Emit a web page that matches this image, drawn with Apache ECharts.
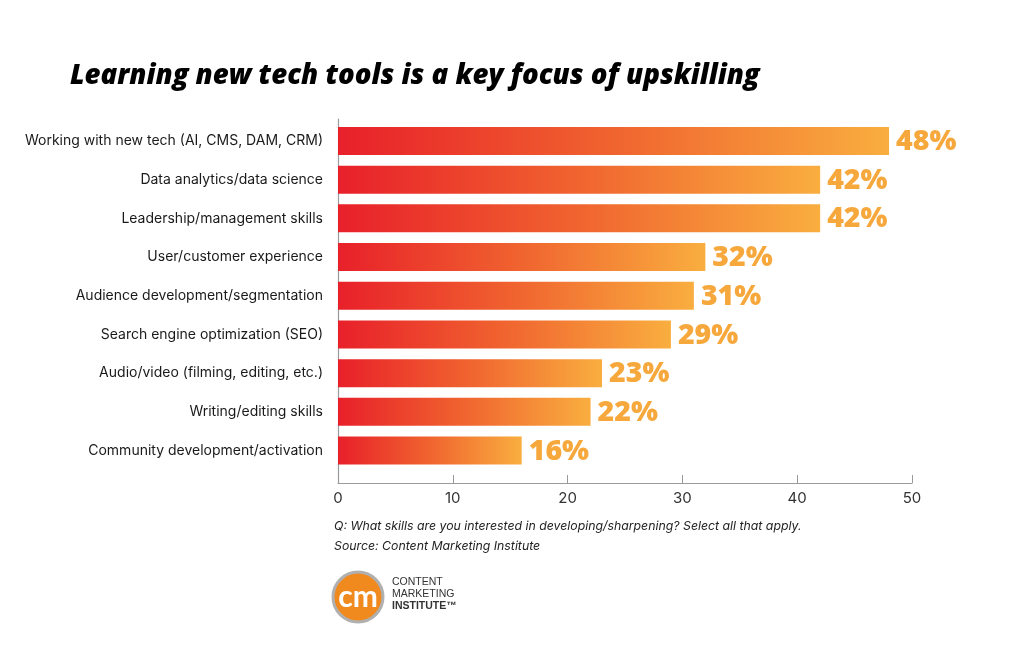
<!DOCTYPE html>
<html>
<head>
<meta charset="utf-8">
<script src="https://cdn.jsdelivr.net/npm/echarts@6/dist/echarts.min.js"></script>
<style>html,body{margin:0;padding:0;background:#fff}#c{width:1024px;height:650px}</style>
</head>
<body>
<div id="c"></div>
<script>
const categories = [
  'Working with new tech (AI, CMS, DAM, CRM)',
  'Data analytics/data science',
  'Leadership/management skills',
  'User/customer experience',
  'Audience development/segmentation',
  'Search engine optimization (SEO)',
  'Audio/video (filming, editing, etc.)',
  'Writing/editing skills',
  'Community development/activation'
];
const values = [48, 42, 42, 32, 31, 29, 23, 22, 16];
const xTicks = [0, 10, 20, 30, 40, 50];
const titleText = 'Learning new tech tools is a key focus of upskilling';
const noteLines = [
  'Q: What skills are you interested in developing/sharpening? Select all that apply.',
  'Source: Content Marketing Institute'
];

const chart = echarts.init(document.getElementById('c'), null, {renderer: 'canvas'});
const grad = new echarts.graphic.LinearGradient(0, 0, 1, 0, [
  {offset: 0, color: '#e8202a'},
  {offset: 0.5, color: '#f0642f'},
  {offset: 1, color: '#f9ae3f'}
]);
chart.setOption({
  animation: false,
  backgroundColor: '#fff',
  title: {
    text: titleText,
    left: 65, top: 57,
    textStyle: {fontFamily: 'Open Sans', fontStyle: 'italic', fontWeight: 800, fontSize: 27.6, color: '#000'}
  },
  grid: [
    {left: 338, right: 112, top: 121.6, height: 348.3},
    {left: 338, right: 112, top: 119, bottom: 167}
  ],
  xAxis: [
    {gridIndex: 0, type: 'value', min: 0, max: 50, show: false},
    {gridIndex: 1, type: 'value', min: 0, max: 50, interval: 10,
      axisLine: {show: true, lineStyle: {color: '#9a9a9a', width: 1.2}},
      axisTick: {show: true, inside: true, length: 8, lineStyle: {color: '#9a9a9a'}},
      splitLine: {show: false},
      axisLabel: {color: '#333', fontFamily: 'Inter', fontSize: 15, margin: 8,
        formatter: v => xTicks.includes(v) ? String(v) : ''}
    }
  ],
  yAxis: [
    {gridIndex: 0, type: 'category', data: categories, inverse: true,
      axisLine: {show: false}, axisTick: {show: false},
      axisLabel: {color: '#1a1a1a', fontFamily: 'Inter', fontSize: 14, margin: 15}
    },
    {gridIndex: 1, type: 'value', min: 0, max: 1,
      axisLine: {show: true, lineStyle: {color: '#9a9a9a', width: 1.2}},
      axisTick: {show: false}, axisLabel: {show: false}, splitLine: {show: false}
    }
  ],
  series: [{
    type: 'bar',
    xAxisIndex: 0, yAxisIndex: 0,
    data: values,
    barWidth: 28,
    itemStyle: {color: grad},
    label: {
      show: true, position: 'right', distance: 7, offset: [0, 1],
      formatter: p => p.value + '%',
      fontFamily: 'Open Sans', fontWeight: 800, fontSize: 28.5, color: '#f6a83c'
    }
  }],
  graphic: [
    {type: 'text', left: 334, top: 520, style: {text: noteLines[0], font: 'italic 12.3px Inter', fill: '#222'}},
    {type: 'text', left: 334, top: 540, style: {text: noteLines[1], font: 'italic 12.3px Inter', fill: '#222'}},
    {type: 'circle', shape: {cx: 358, cy: 597, r: 25}, style: {fill: '#f08a1e', stroke: '#b0b0b0', lineWidth: 3}},
    {type: 'text', x: 358, y: 597, style: {text: 'cm', font: 'bold 30px Lato', fill: '#fff', align: 'center', verticalAlign: 'middle'}},
    {type: 'text', left: 392, top: 577, style: {text: 'CONTENT', font: '10.5px "Liberation Sans"', fill: '#333'}},
    {type: 'text', left: 392, top: 589, style: {text: 'MARKETING', font: '10.5px "Liberation Sans"', fill: '#333'}},
    {type: 'text', left: 392, top: 601, style: {text: 'INSTITUTE™', font: 'bold 10.5px "Liberation Sans"', fill: '#333'}}
  ]
});
</script>
</body>
</html>
